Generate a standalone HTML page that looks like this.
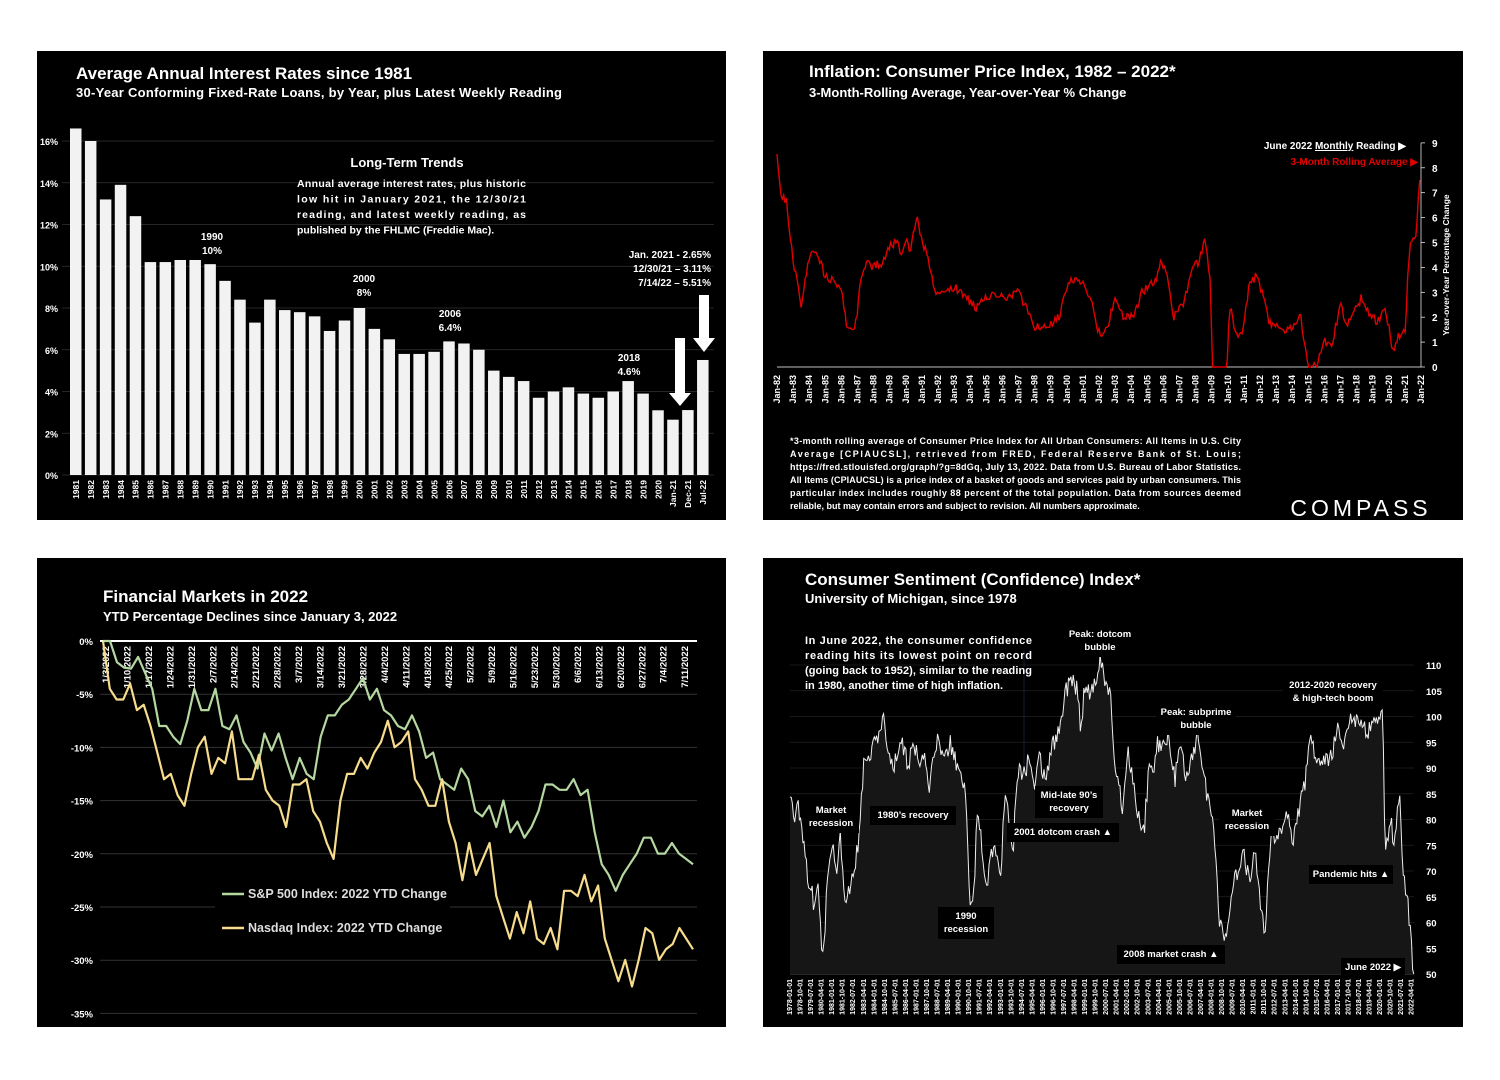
<!DOCTYPE html>
<html><head><meta charset="utf-8"><style>
html,body{margin:0;padding:0;background:#fff;width:1500px;height:1080px;overflow:hidden}
svg{display:block;font-family:"Liberation Sans",sans-serif}
</style></head><body>
<svg id="s" width="1500" height="1080" xmlns="http://www.w3.org/2000/svg">
<rect width="1500" height="1080" fill="#fff"/>
<rect x="37" y="51" width="689" height="469" fill="#000"/>
<rect x="763" y="51" width="700" height="469" fill="#000"/>
<rect x="37" y="558" width="689" height="469" fill="#000"/>
<rect x="763" y="558" width="700" height="469" fill="#000"/>
<g fill="#fff" font-weight="bold">
<text x="76" y="79" font-size="17">Average Annual Interest Rates since 1981</text>
<text x="76" y="97" font-size="13" textLength="486">30-Year Conforming Fixed-Rate Loans, by Year, plus Latest Weekly Reading</text>
<text x="809" y="77" font-size="17">Inflation: Consumer Price Index, 1982 – 2022*</text>
<text x="809" y="97" font-size="13">3-Month-Rolling Average, Year-over-Year % Change</text>
<text x="103" y="602" font-size="17">Financial Markets in 2022</text>
<text x="103" y="621" font-size="13">YTD Percentage Declines since January 3, 2022</text>
<text x="805" y="585" font-size="17">Consumer Sentiment (Confidence) Index*</text>
<text x="805" y="603" font-size="13">University of Michigan, since 1978</text>
</g>
<g id="g"></g>
</svg>
<script>
const S=document.getElementById('g');let h='';
function T(x,y,t,o){o=o||{};h+=`<text x="${x}" y="${y}" font-size="${o.s||10}" fill="${o.c||'#fff'}" ${o.a?`text-anchor="${o.a}"`:''} ${o.b?'font-weight="bold"':''} ${o.tl?`textLength="${o.tl}" lengthAdjust="spacing"`:''} ${o.ls?`letter-spacing="${o.ls}"`:''} ${o.r?`transform="rotate(-90 ${x} ${y})"`:''}>${t}</text>`}
function L(x1,y1,x2,y2,c,w){h+=`<line x1="${x1}" y1="${y1}" x2="${x2}" y2="${y2}" stroke="${c}" stroke-width="${w||1}"/>`}
function rnd(i){let x=Math.sin(i*12.9898+3.1)*43758.5453;return x-Math.floor(x)}
function interp(pts,t){for(let i=0;i<pts.length-1;i++){if(t>=pts[i][0]&&t<=pts[i+1][0]){let f=(t-pts[i][0])/(pts[i+1][0]-pts[i][0]);return pts[i][1]+f*(pts[i+1][1]-pts[i][1])}}return pts[pts.length-1][1]}
function R(x,y,t,s){h+=`<text x="${x}" y="${y}" font-size="${s}" fill="#fff" font-weight="bold" text-anchor="end" transform="rotate(-90 ${x} ${y})">${t}</text>`}
// Panel 1
for(let i=0;i<=8;i++){let y=475-i*41.75;L(62,y,714,y,'#333',0.7);T(58,y+4,(i*2)+'%',{s:9,a:'end',b:1})}
const v=[16.6,16.0,13.2,13.9,12.4,10.2,10.2,10.3,10.3,10.1,9.3,8.4,7.3,8.4,7.9,7.8,7.6,6.9,7.4,8.0,7.0,6.5,5.8,5.8,5.9,6.4,6.3,6.0,5.0,4.7,4.5,3.7,4.0,4.2,3.9,3.7,4.0,4.5,3.9,3.1,2.65,3.11,5.51];
const lab=[];for(let y=1981;y<=2020;y++)lab.push(y);lab.push('Jan-21','Dec-21','Jul-22');
v.forEach((d,i)=>{let x=70+i*14.93,ht=d*20.875;h+=`<rect x="${x}" y="${475-ht}" width="11.5" height="${ht}" fill="#f2f2f2"/>`;R((x+9).toFixed(1),480,lab[i],8.5)});
T(407,167,'Long-Term Trends',{s:13,a:'middle',b:1});
['Annual average interest rates, plus historic','low hit in January 2021, the 12/30/21','reading, and latest weekly reading, as','published by the FHLMC (Freddie Mac).'].forEach((t,i)=>T(297,187+i*15.5,t,{s:10.5,b:1,tl:i<3?229:null}));
T(212,240,'1990',{s:10,a:'middle',b:1});T(212,254,'10%',{s:10,a:'middle',b:1});
T(364,282,'2000',{s:10,a:'middle',b:1});T(364,296,'8%',{s:10,a:'middle',b:1});
T(450,317,'2006',{s:10,a:'middle',b:1});T(450,331,'6.4%',{s:10,a:'middle',b:1});
T(629,361,'2018',{s:10,a:'middle',b:1});T(629,375,'4.6%',{s:10,a:'middle',b:1});
T(711,258,'Jan. 2021 - 2.65%',{s:10,a:'end',b:1});T(711,272,'12/30/21 – 3.11%',{s:10,a:'end',b:1});T(711,286,'7/14/22 –  5.51%',{s:10,a:'end',b:1});
h+=`<polygon points="675,338 685,338 685,393 691,393 680,406 669,393 675,393" fill="#fff"/><polygon points="699,295 709,295 709,338 715,338 704,352 693,338 699,338" fill="#fff"/>`;
// Panel 2
for(let i=0;i<=9;i++){let y=367-i*24.9;L(1421,y,1425,y,'#fff',0.7);T(1432,y+4,i,{s:10,b:1})}
L(1421,143,1421,367,'#fff',0.7);L(777,367,1421,367,'#fff',0.7);
T(1449,265,'Year-over-Year Percentage Change',{s:8.5,a:'middle',b:1,r:1});
for(let y=82;y<=122;y++){let x=(777+(y-82)*16.1+3).toFixed(1);R(x,375,'Jan-'+String(y%100).padStart(2,'0'),9)}
const cpi=[[82,8.4],[82.3,6.8],[82.6,6.6],[83,4.2],[83.2,3.6],[83.5,2.5],[84,4.4],[84.3,4.7],[84.7,4.2],[85,3.6],[85.5,3.5],[86,3.2],[86.3,1.7],[86.8,1.5],[87,2.3],[87.2,3.6],[87.6,4.2],[88,4.0],[88.5,4.2],[89,4.8],[89.4,5.1],[89.7,4.5],[90,5.1],[90.3,4.7],[90.7,6.2],[91,5.0],[91.3,4.7],[91.8,3.0],[92,2.8],[92.5,3.1],[93,3.2],[93.5,3.0],[94,2.6],[94.4,2.4],[94.8,2.8],[95,2.8],[95.5,3.0],[96,2.8],[96.5,2.9],[97,3.0],[97.5,2.3],[98,1.6],[98.5,1.6],[99,1.7],[99.5,2.0],[100,3.3],[100.5,3.5],[101,3.4],[101.5,2.7],[101.9,1.6],[102.2,1.2],[102.6,1.8],[103,2.8],[103.4,2.1],[103.8,2.0],[104.2,2.0],[104.6,3.0],[105,3.2],[105.5,3.4],[105.8,4.2],[106.2,3.8],[106.6,2.0],[106.9,2.2],[107.3,2.6],[107.8,4.0],[108.2,4.2],[108.6,5.2],[108.9,3.5],[109.05,0],[109.5,-1.5],[109.95,0],[110.1,2.5],[110.5,1.4],[110.9,1.2],[111.3,3.2],[111.8,3.7],[112.2,2.8],[112.6,1.7],[113,1.8],[113.5,1.5],[114,1.5],[114.5,2.1],[115,0],[115.5,0],[116,1.0],[116.5,1.0],[117,2.5],[117.4,1.7],[117.8,2.1],[118.3,2.8],[118.8,2.1],[119.3,1.8],[119.8,2.3],[120.3,0.5],[120.6,1.3],[121,1.4],[121.3,5.0],[121.7,5.3],[122,8.3]];
let pp=[];for(let t=82;t<=122;t+=0.083){let y=interp(cpi,t)+(rnd(t*12)-0.5)*0.35;if(y<0)y=0;pp.push(((777+(t-82)*16.1)).toFixed(1)+','+(367-y*24.9).toFixed(1))}
h+=`<polyline points="${pp.join(' ')}" fill="none" stroke="#e00000" stroke-width="1.4"/>`;
T(1406,149,'June 2022 <tspan text-decoration="underline">Monthly</tspan> Reading  ▶',{s:10,a:'end',b:1});
T(1418,165,'3-Month Rolling Average  ▶',{s:10,a:'end',c:'#e00000',b:1});
['*3-month rolling average of Consumer Price Index for All Urban Consumers: All Items in U.S. City','Average [CPIAUCSL], retrieved from FRED, Federal Reserve Bank of St. Louis;','https://fred.stlouisfed.org/graph/?g=8dGq, July 13, 2022. Data from U.S. Bureau of Labor Statistics.','All Items (CPIAUCSL) is a price index of a basket of goods and services paid by urban consumers. This','particular index includes roughly 88 percent of the total population. Data from sources deemed','reliable, but may contain errors and subject to revision. All numbers approximate.'].forEach((t,i)=>T(790,444+i*13,t,{s:9,b:1,tl:i<5?451:null}));
T(1361,516,'COMPASS',{s:23,a:'middle',ls:4});
// Panel 3
for(let i=0;i<=7;i++){let y=641+i*53.2;if(i>0)L(100,y,697,y,'#333',1);T(93,y+4,(i?'-'+i*5:0)+'%',{s:9.5,a:'end',b:1})}
L(100,641,697,641,'#fff',2);
const wk=['1/3/2022','1/10/2022','1/17/2022','1/24/2022','1/31/2022','2/7/2022','2/14/2022','2/21/2022','2/28/2022','3/7/2022','3/14/2022','3/21/2022','3/28/2022','4/4/2022','4/11/2022','4/18/2022','4/25/2022','5/2/2022','5/9/2022','5/16/2022','5/23/2022','5/30/2022','6/6/2022','6/13/2022','6/20/2022','6/27/2022','7/4/2022','7/11/2022'];
wk.forEach((w,i)=>R((109+i*21.45).toFixed(1),646,w,9.5));
const sp=[0,0,-2,-2.5,-2.6,-1.5,-3,-4.5,-8,-8,-9,-9.7,-7.5,-4.5,-6.5,-6.5,-4.5,-8,-8.3,-7,-9.5,-10.5,-12,-8.7,-10.3,-8.7,-11,-13,-11,-12.5,-13,-9,-7,-7,-6,-5.5,-4.5,-3.5,-5.5,-4.5,-6.5,-7,-8,-8.3,-7,-8.5,-11,-10.5,-13,-13.5,-14,-12,-13,-16,-16.5,-15.5,-17.5,-15,-18,-17,-18.5,-17.5,-16,-13.5,-13.5,-14,-14,-13,-14.5,-14,-18,-21,-22,-23.5,-22,-21,-20,-18.5,-18.5,-20,-20,-19,-20,-20.5,-21];
const nq=[0,-4.5,-5.5,-5.5,-4,-6.5,-6,-8,-10.5,-13,-12.5,-14.5,-15.5,-12.5,-10,-9,-12.5,-11,-11.5,-8.5,-13,-13,-13,-10.7,-14,-15,-15.5,-17.5,-13.5,-13.5,-13,-16,-17,-19,-20.5,-15,-12.5,-12.5,-11,-12,-10.5,-9.5,-7.5,-10,-9.5,-8.5,-13,-14,-15.5,-15.5,-13,-17,-19,-22.5,-19,-22,-20.5,-19,-24,-26,-28,-25.5,-27.5,-24.5,-28,-28.5,-27,-29,-23.5,-23.5,-24,-22,-24.5,-23,-28,-30,-32,-30,-32.5,-30,-27,-27.5,-30,-29,-28.5,-27,-28,-29];
function line3(a,c){let n=a.length;h+=`<polyline points="${a.map((d,i)=>(103+i*590/(n-1)).toFixed(1)+','+(641+(-d)*10.63).toFixed(1)).join(' ')}" fill="none" stroke="${c}" stroke-width="2.2" stroke-linejoin="round"/>`}
line3(sp,'#b5d7a0');line3(nq,'#f6dc8c');
h+=`<rect x="215" y="882" width="235" height="58" fill="#000"/>`;
L(222,894,244,894,'#b5d7a0',2.5);T(248,898,'S&amp;P 500 Index: 2022 YTD Change',{s:12.5,b:1,c:'#ddd'});
L(222,928,244,928,'#f6dc8c',2.5);T(248,932,'Nasdaq Index: 2022 YTD Change',{s:12.5,b:1,c:'#ddd'});
// Panel 4
for(let i=0;i<=12;i++){let y=974-i*25.75;L(790,y,1414,y,i?'#222':'#666',0.8);T(1426,y+4,50+i*5,{s:9.5,b:1})}
L(1024,650,1024,974,'#203050',0.6);
const cs=[[78,84],[78.3,80],[78.6,82],[79,74],[79.3,68],[79.7,64],[80,66],[80.35,52],[80.7,70],[81,76],[81.3,68],[81.6,77],[81.9,64],[82.3,66],[82.7,72],[83,80],[83.3,92],[83.7,91],[84,98],[84.3,95],[84.6,100],[85,92],[85.4,90],[85.7,94],[86,95],[86.4,90],[86.8,95],[87.2,91],[87.6,93],[87.9,85],[88.2,92],[88.6,96],[89,92],[89.4,95],[89.8,91],[90.2,90],[90.5,85],[90.8,64],[91.1,66],[91.3,81],[91.6,77],[92,66],[92.3,72],[92.6,76],[93,69],[93.3,85],[93.6,80],[93.9,75],[94.2,90],[94.6,88],[95,92],[95.4,87],[95.8,92],[96,87],[96.4,91],[96.8,95],[97.2,97],[97.6,105],[98,107],[98.4,106],[98.7,98],[99,106],[99.4,105],[99.8,108],[100.1,111],[100.4,107],[100.8,104],[101.1,92],[101.4,88],[101.7,81],[102,93],[102.4,89],[102.8,81],[103.2,78],[103.6,92],[103.9,90],[104.2,95],[104.6,95],[105,96],[105.4,88],[105.8,96],[106.2,88],[106.6,92],[107,96],[107.4,90],[107.8,83],[108.2,78],[108.5,62],[108.9,55],[109.2,60],[109.5,68],[109.9,70],[110.3,73],[110.7,68],[111.1,74],[111.5,62],[111.8,58],[112.2,75],[112.6,78],[113,76],[113.4,82],[113.8,76],[114.2,82],[114.6,86],[115,96],[115.4,92],[115.8,91],[116.2,92],[116.6,93],[117,97],[117.4,95],[117.8,100],[118.2,98],[118.6,100],[119,97],[119.4,98],[119.8,99],[120.2,101],[120.35,72],[120.7,80],[121,76],[121.4,86],[121.6,70],[122,63],[122.4,50]];
let cp=[];for(let t=78;t<=122.4;t+=0.0833){let y=interp(cs,t)+(rnd(t*7)-0.5)*4;if(y<50)y=50;cp.push((790+(t-78)*14.05).toFixed(1)+','+(974-(y-50)*5.15).toFixed(1))}
h+=`<polygon points="790,974 ${cp.join(' ')} ${(790+44.4*14.05).toFixed(1)},974" fill="#161616"/><polyline points="${cp.join(' ')}" fill="none" stroke="#eee" stroke-width="1"/>`;
for(let m=0;m<=531;m+=9){let yr=1978+Math.floor(m/12),mo=m%12+1,x=(792+m/12*14.05).toFixed(1);R(x,979,`${yr}-${String(mo).padStart(2,'0')}-01`,7)}
['In  June  2022,  the  consumer  confidence','reading  hits  its  lowest  point  on  record','(going back to 1952), similar to the reading','in 1980, another time of high inflation.'].forEach((t,i)=>T(805,644+i*15,t,{s:11,b:1,tl:i<3?227:null}));
function BL(x,y,lines,w){h+=`<rect x="${x-w/2}" y="${y-12}" width="${w}" height="${lines.length*13+6}" fill="#000"/>`;lines.forEach((t,i)=>T(x,y+i*13,t,{s:9.5,a:'middle',b:1}))}
BL(831,813,['Market','recession'],56);BL(913,818,['1980’s recovery'],86);BL(966,919,['1990','recession'],56);
BL(1069,798,['Mid-late 90’s','recovery'],68);BL(1063,835,['2001 dotcom crash ▲'],112);BL(1100,637,['Peak: dotcom','bubble'],74);
BL(1196,715,['Peak: subprime','bubble'],80);BL(1247,816,['Market','recession'],56);BL(1171,957,['2008 market crash ▲'],108);
BL(1333,688,['2012-2020 recovery','&amp; high-tech boom'],100);BL(1351,877,['Pandemic hits ▲'],84);BL(1373,970,['June 2022 ▶'],64);
S.innerHTML=h;
</script>
</body></html>
